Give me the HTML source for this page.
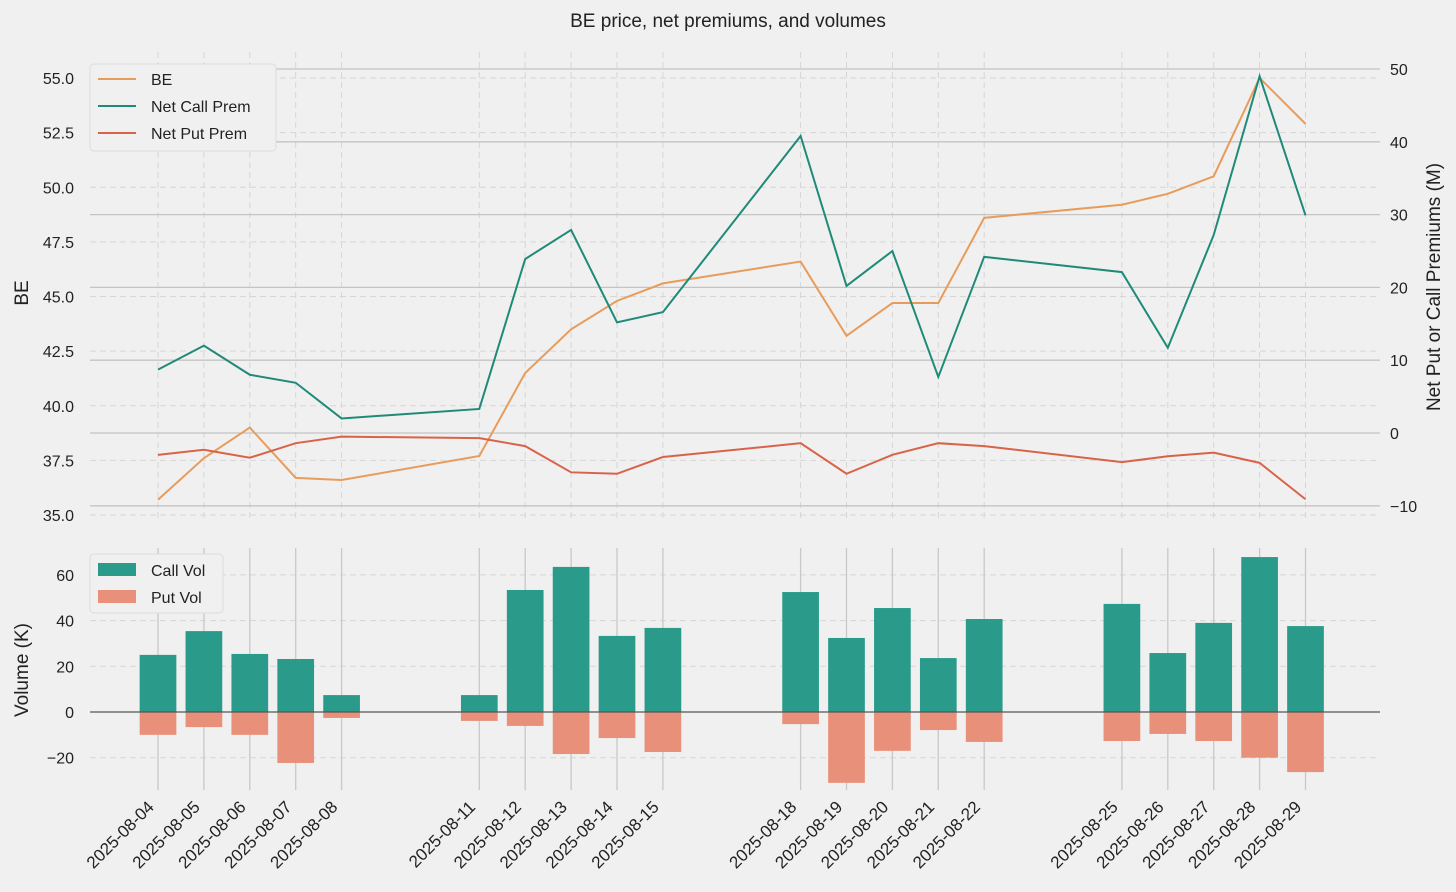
<!DOCTYPE html>
<html><head><meta charset="utf-8">
<style>
html,body{margin:0;padding:0;background:#f0f0f0;}
svg{display:block;font-family:"Liberation Sans",sans-serif;}
</style></head>
<body>
<svg id="chart" width="1456" height="892" xmlns="http://www.w3.org/2000/svg">
<rect width="1456" height="892" fill="#f0f0f0"/>
<text x="728" y="27" text-anchor="middle" font-size="19" fill="#222">BE price, net premiums, and volumes</text>
</svg>
<script>
const dates=["2025-08-04","2025-08-05","2025-08-06","2025-08-07","2025-08-08","2025-08-11","2025-08-12","2025-08-13","2025-08-14","2025-08-15","2025-08-18","2025-08-19","2025-08-20","2025-08-21","2025-08-22","2025-08-25","2025-08-26","2025-08-27","2025-08-28","2025-08-29"];
const bePrice=[35.7,37.6,39.0,36.7,36.6,37.7,41.5,43.5,44.8,45.6,46.6,43.2,44.7,44.7,48.6,49.2,49.7,50.5,55.0,52.9];
const netCallPrem=[8.7,12.0,8.0,6.9,2.0,3.3,23.9,27.9,15.2,16.6,40.8,20.2,25.0,7.7,24.2,22.1,11.7,27.2,49.0,29.9];
const netPutPrem=[-3.0,-2.3,-3.4,-1.4,-0.5,-0.7,-1.8,-5.4,-5.6,-3.3,-1.4,-5.6,-3.0,-1.4,-1.8,-4.0,-3.2,-2.7,-4.1,-9.1];
const callVol=[25.0,35.4,25.4,23.2,7.4,7.4,53.4,63.5,33.3,36.8,52.5,32.4,45.5,23.6,40.7,47.3,25.8,39.0,67.8,37.6];
const putVol=[-10.0,-6.6,-10.0,-22.3,-2.6,-3.9,-6.1,-18.4,-11.4,-17.5,-5.3,-31.0,-17.0,-7.9,-13.1,-12.7,-9.6,-12.7,-20.0,-26.3];
const beTicks=[35.0,37.5,40.0,42.5,45.0,47.5,50.0,52.5,55.0];
const premTicks=[-10,0,10,20,30,40,50];
const volTicks=[-20,0,20,40,60];

const NS="http://www.w3.org/2000/svg";
const svg=document.getElementById('chart');
function el(tag,attrs,parent){const e=document.createElementNS(NS,tag);for(const k in attrs)e.setAttribute(k,attrs[k]);(parent||svg).appendChild(e);return e;}
const day0=Date.UTC(2025,7,4);
function xS(d){const t=Date.UTC(+d.slice(0,4),+d.slice(5,7)-1,+d.slice(8,10));return 158+(t-day0)/86400000*45.9;}
function yBE(v){return 78+(55-v)*21.85;}
function yPrem(v){return 433-v*7.28;}
function yVol(v){return 712-v*2.285;}
const L=90,R=1380;

for(const t of beTicks){
  const g=el('line',{x1:L,x2:R,y1:yBE(t),y2:yBE(t),stroke:'#d6d6d6','stroke-dasharray':'6,4','stroke-width':1});
  
  const tx=el('text',{x:74,y:yBE(t)+6,'text-anchor':'end','font-size':16,fill:'#222'});tx.textContent=t.toFixed(1);
  
}
for(const d of dates){
  const g=el('line',{x1:xS(d),x2:xS(d),y1:52,y2:522,stroke:'#d6d6d6','stroke-dasharray':'6,4','stroke-width':1});
  
}
for(const t of premTicks){
  const g=el('line',{x1:L,x2:R,y1:yPrem(t),y2:yPrem(t),stroke:'#c4c4c4','stroke-width':1.3});
  
  const tx=el('text',{x:1390,y:yPrem(t)+6,'font-size':16,fill:'#222'});tx.textContent=(t<0?'\u2212'+(-t):t);
  
}
function line(vals,yf,color,name){
  const p=el('polyline',{points:vals.map((v,i)=>xS(dates[i])+','+yf(v)).join(' '),fill:'none',stroke:color,'stroke-width':2});
  
}
line(bePrice,yBE,'#e89c5c','be-line');
line(netCallPrem,yPrem,'#1f8a78','net-call-prem-line');
line(netPutPrem,yPrem,'#d9634a','net-put-prem-line');

let t1=el('text',{x:0,y:0,'font-size':19,fill:'#222',transform:'translate(28,293) rotate(-90)','text-anchor':'middle'});t1.textContent='BE';

let t2=el('text',{x:0,y:0,'font-size':19,fill:'#222',transform:'translate(1440,287) rotate(-90)','text-anchor':'middle'});t2.textContent='Net Put or Call Premiums (M)';


const lg=el('g',{});
el('rect',{x:90,y:64,width:186,height:87,rx:4,fill:'#f0f0f0',stroke:'#dcdcdc'},lg);
[['BE','#e89c5c'],['Net Call Prem','#1f8a78'],['Net Put Prem','#d9634a']].forEach((e,i)=>{
  const y=79+i*27;
  const li=el('line',{x1:98,x2:136,y1:y,y2:y,stroke:e[1],'stroke-width':2},lg);
  
  const tx=el('text',{x:151,y:y+6,'font-size':16,fill:'#222'},lg);tx.textContent=e[0];
  
});

for(const t of volTicks){
  if(t!==0){const g=el('line',{x1:L,x2:R,y1:yVol(t),y2:yVol(t),stroke:'#d6d6d6','stroke-dasharray':'6,4','stroke-width':1});
  }
  const tx=el('text',{x:74,y:yVol(t)+6,'text-anchor':'end','font-size':16,fill:'#222'});tx.textContent=(t<0?'\u2212'+(-t):t);
  
}
for(const d of dates){
  const g=el('line',{x1:xS(d),x2:xS(d),y1:548,y2:790,stroke:'#c8c8c8','stroke-width':1.3});
  
}
const bw=36.7;
dates.forEach((d,i)=>{
  const x=xS(d)-bw/2;
  const c=el('rect',{x:x,y:yVol(callVol[i]),width:bw,height:yVol(0)-yVol(callVol[i]),fill:'#2a9a8a'});
  
  const p=el('rect',{x:x,y:yVol(0),width:bw,height:yVol(putVol[i])-yVol(0),fill:'#e8907a'});
  
  const tx=el('text',{x:0,y:0,'font-size':17,fill:'#222','text-anchor':'end',transform:`translate(${xS(d)-3},${808}) rotate(-45)`});tx.textContent=d;
  
});
const z=el('line',{x1:L,x2:R,y1:yVol(0),y2:yVol(0),stroke:'#555','stroke-width':1.3});

let t3=el('text',{x:0,y:0,'font-size':19,fill:'#222',transform:'translate(28,670) rotate(-90)','text-anchor':'middle'});t3.textContent='Volume (K)';


const lg2=el('g',{});
el('rect',{x:90,y:554,width:133,height:59,rx:4,fill:'#f0f0f0',stroke:'#dcdcdc'},lg2);
[['Call Vol','#2a9a8a'],['Put Vol','#e8907a']].forEach((e,i)=>{
  const y=570+i*27;
  const r=el('rect',{x:98,y:y-7,width:38,height:13,fill:e[1]},lg2);
  
  const tx=el('text',{x:151,y:y+6,'font-size':16,fill:'#222'},lg2);tx.textContent=e[0];
  
});
</script>
</body></html>
